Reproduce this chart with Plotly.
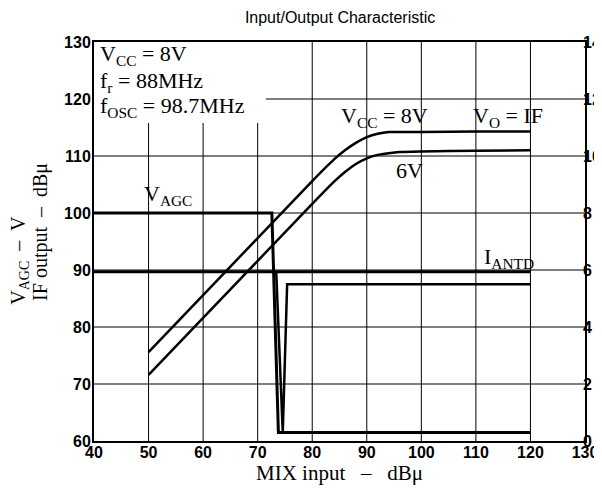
import plotly.graph_objects as go

# IF output curves (dBu)
mix_in = [50, 60, 70, 80, 84, 86, 88, 90, 92, 94, 96, 100, 110, 120]
if_8v = [75.6, 85.6, 95.6, 105.6, 109.4, 111.0, 112.3, 113.3, 113.9, 114.2, 114.2, 114.2, 114.3, 114.3]
if_6v = [71.6, 81.6, 91.6, 101.6, 105.5, 107.2, 108.6, 109.6, 110.2, 110.5, 110.7, 110.8, 110.9, 111.0]

# V_AGC / I_ANTD (right axis)
agc_x = [40, 72.6, 73.8, 120]
agc_y = [8.0, 8.0, 0.3, 0.3]
antd_x = [40, 120]
antd_y = [5.94, 5.94]
antd2_x = [73.4, 74.6, 75.4, 120]
antd2_y = [5.94, 0.3, 5.5, 5.5]

x_ticks = [40, 50, 60, 70, 80, 90, 100, 110, 120, 130]
y_ticks = [60, 70, 80, 90, 100, 110, 120, 130]
y2_ticks = [0, 2, 4, 6, 8, 10, 12, 14]

cond_text = ['V<sub>CC</sub> = 8V', 'f<sub>r</sub> = 88MHz', 'f<sub>OSC</sub> = 98.7MHz']

fig = go.Figure()
line = dict(color='black', width=2.5)
fig.add_trace(go.Scatter(x=mix_in, y=if_8v, mode='lines', line=dict(line, shape='spline', smoothing=0.6)))
fig.add_trace(go.Scatter(x=mix_in, y=if_6v, mode='lines', line=dict(line, shape='spline', smoothing=0.6)))
fig.add_trace(go.Scatter(x=agc_x, y=agc_y, mode='lines', line=dict(color='black', width=3), yaxis='y2'))
fig.add_trace(go.Scatter(x=antd_x, y=antd_y, mode='lines', line=dict(color='black', width=3), yaxis='y2'))
fig.add_trace(go.Scatter(x=antd2_x, y=antd2_y, mode='lines', line=line, yaxis='y2'))

# grid (some lines are interrupted by the parameter box)
shapes = []
for v in x_ticks[1:-1]:
    top = 115.8 if v <= 70 else 130
    shapes.append(dict(type='line', xref='x', yref='y', x0=v, x1=v, y0=60, y1=top,
                       line=dict(color='black', width=1), layer='below'))
for v in y_ticks[1:-1]:
    left = 71.5 if v == 120 else 40
    shapes.append(dict(type='line', xref='x', yref='y', x0=left, x1=130, y0=v, y1=v,
                       line=dict(color='black', width=1), layer='below'))

serif = dict(family='Liberation Serif, Times New Roman, serif', size=22, color='black')
ann = []
for txt, yy in zip(cond_text, [127.7, 123.0, 118.6]):
    ann.append(dict(x=40.8, y=yy, text=txt, xanchor='left', yanchor='middle', font=serif))
ann += [
    dict(x=53.6, y=103.2, text='V<sub>AGC</sub>', font=serif),
    dict(x=93.3, y=116.8, text='V<sub>CC</sub> = 8V', font=serif),
    dict(x=115.9, y=116.8, text='V<sub>O</sub> = IF', font=serif),
    dict(x=97.9, y=107.5, text='6V', font=serif),
    dict(x=116, y=92.1, text='I<sub>ANTD</sub>', font=serif),
]
for a in ann:
    a.update(xref='x', yref='y', showarrow=False)
ann += [
    dict(xref='paper', yref='paper', x=-0.151, y=0.454, text='V<sub>AGC</sub>  –  V', textangle=-90,
         xanchor='center', yanchor='middle', showarrow=False, font=dict(serif, size=20)),
    dict(xref='paper', yref='paper', x=-0.108, y=0.524, text='IF output  –  dBμ', textangle=-90,
         xanchor='center', yanchor='middle', showarrow=False, font=dict(serif, size=20)),
]

tickfont = dict(family='Liberation Sans Narrow, Liberation Sans, Arial', size=16, color='black', weight='bold')
# the page adds an 8px body margin, so the figure is 8px smaller and shifted
fig.update_layout(
    width=594, height=483,
    margin=dict(l=86, r=17, t=34, b=50),
    paper_bgcolor='white', plot_bgcolor='white',
    showlegend=False,
    title=dict(text='Input/Output Characteristic', x=0.559, xanchor='center', y=0.981, yanchor='middle',
               font=dict(family='Liberation Sans, Arial', size=16, color='black')),
    xaxis=dict(range=[40, 130], tickvals=x_ticks, showgrid=False, zeroline=False,
               showline=True, linecolor='black', linewidth=2, mirror=True, ticks='',
               tickfont=tickfont, automargin=False, ticklabelstandoff=-4,
               title=dict(text='MIX input\u00a0\u00a0 –\u00a0\u00a0 dBμ', font=dict(serif, size=21), standoff=0)),
    yaxis=dict(range=[60, 130], tickvals=y_ticks, showgrid=False, zeroline=False,
               showline=True, linecolor='black', linewidth=2, mirror=True, ticks='',
               tickfont=tickfont, automargin=False, ticklabelstandoff=-2),
    yaxis2=dict(range=[0, 14], tickvals=y2_ticks, overlaying='y', side='right', showgrid=False,
                zeroline=False, ticks='', tickfont=tickfont, automargin=False, ticklabelstandoff=-3),
    shapes=shapes,
    annotations=ann,
)

fig.write_html("out.html")
